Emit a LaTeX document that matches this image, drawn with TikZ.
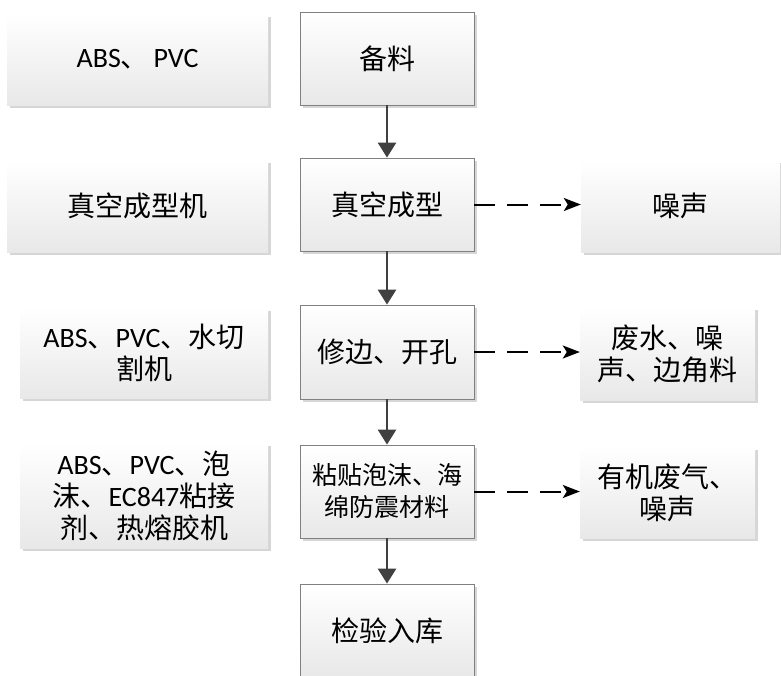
\documentclass[tikz,border=0pt]{standalone}
\usepackage{fontspec}
\setmainfont{Carlito}
\newfontfamily\cjk{Noto Sans CJK SC}
\newcommand\latn[1]{{\rmfamily\fontsize{28}{32}\selectfont #1}}
\usetikzlibrary{arrows.meta,shadows}
\begin{document}
\begin{tikzpicture}[x=1pt,y=-1pt,
  box/.style={rectangle,inner sep=0pt,align=center,
    top color=white,bottom color=black!9,
    drop shadow={shadow xshift=3pt,shadow yshift=-3pt,fill=black!16,opacity=1},
    font=\cjk\fontsize{28}{32}\selectfont},
  sidebox/.style={box,draw=none},
  stepbox/.style={box,draw=black!50,line width=0.8pt,minimum width=174pt},
  flow/.style={draw=black!75,line width=2.6pt,-{Triangle[length=15pt,width=18pt]}},
  waste/.style={draw=black,line width=2pt,dash pattern=on 21pt off 12pt,
    -{Stealth[length=17pt,width=13pt,inset=4pt]}}]
\useasboundingbox (0,0) rectangle (781,675);
\begin{scope}
\clip (0,0) rectangle (781,675);
% inputs (left column)
\node[sidebox,minimum width=261pt,minimum height=91pt] (in1) at (137.5,59.5) {\latn{ABS}、\,\latn{PVC}};
\node[sidebox,minimum width=261pt,minimum height=92pt] (in2) at (137.5,206) {真空成型机};
\node[sidebox,minimum width=248pt,minimum height=90pt] (in3) at (144,353) {\latn{ABS}、\latn{PVC}、水切\\割机};
\node[sidebox,minimum width=248pt,minimum height=105pt] (in4) at (144,495.5) {\latn{ABS}、\latn{PVC}、泡\\沫、\latn{EC847}粘接\\剂、热熔胶机};
% process steps (middle column)
\node[stepbox,minimum height=93pt] (s1) at (387,58.5) {备料};
\node[stepbox,minimum height=93pt] (s2) at (387,204.5) {真空成型};
\node[stepbox,minimum height=94pt] (s3) at (387,352) {修边、开孔};
\node[stepbox,minimum height=93pt,font=\cjk\fontsize{25}{32}\selectfont] (s4) at (387,491.5) {粘贴泡沫、海\\绵防震材料};
\node[stepbox,minimum height=93pt] (s5) at (387,630.5) {检验入库};
% emissions (right column)
\node[sidebox,minimum width=199pt,minimum height=92pt] (out1) at (680.5,206) {噪声};
\node[sidebox,minimum width=175pt,minimum height=93pt] (out2) at (667.5,353.5) {废水、噪\\声、边角料};
\node[sidebox,minimum width=175pt,minimum height=91pt] (out3) at (667.5,492.5) {有机废气、\\噪声};
% main flow
\draw[flow] (s1) -- (s2);
\draw[flow] (s2) -- (s3);
\draw[flow] (s3) -- (s4);
\draw[flow] (s4) -- (s5);
% emissions
\draw[waste] (s2.east) -- (out1.west |- s2.east);
\draw[waste] (s3.east) -- (out2.west |- s3.east);
\draw[waste] (s4.east) -- (out3.west |- s4.east);
\end{scope}
\end{tikzpicture}
\end{document}
